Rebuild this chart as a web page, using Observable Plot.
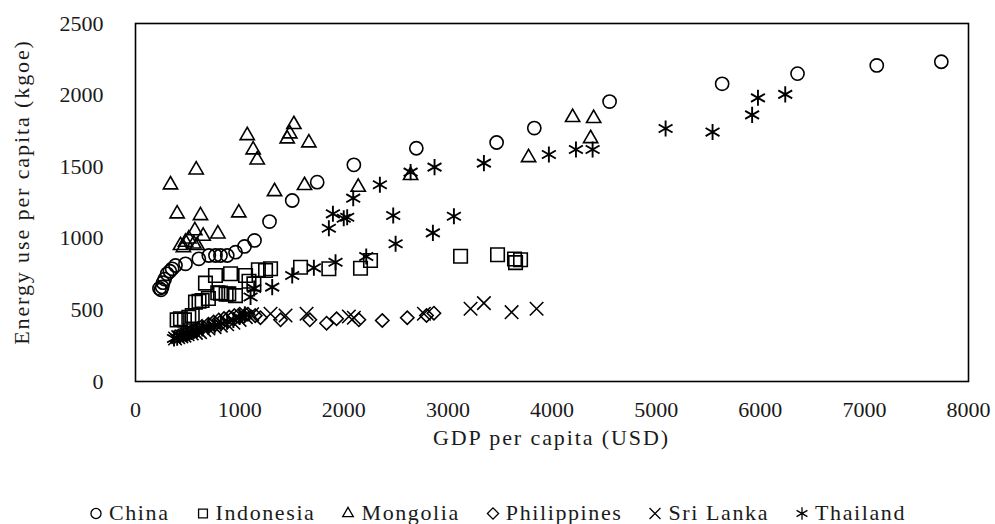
<!DOCTYPE html>
<html>
<head>
<meta charset="utf-8">
<script src="https://cdn.jsdelivr.net/npm/d3@7"></script>
<script src="https://cdn.jsdelivr.net/npm/@observablehq/plot@0.6"></script>
<style>
  body { margin: 0; background: #fff; }
  #wrap { position: relative; width: 995px; height: 524px; font-family: "Liberation Serif", "Tinos", "Times New Roman", serif; color: #1a1a1a; overflow: hidden; }
  #chart { position: absolute; left: 0; top: 0; }
  #chart svg text { font-family: "Liberation Serif", "Tinos", "Times New Roman", serif; }
  .lab { position: absolute; font-size: 22px; letter-spacing: 1.9px; white-space: nowrap; line-height: 22px; }
  #xlab { left: 135px; width: 833px; text-align: center; top: 427px; }
  #ylab { left: 22px; top: 192px; transform: translate(-50%, -50%) rotate(-90deg); }
  #legend { position: absolute; left: 0; width: 995px; top: 501px; display: flex; justify-content: center; align-items: center; font-size: 22px; letter-spacing: 1.6px; line-height: 24px; }
  .item { display: flex; align-items: center; margin: 0 13px; }
  .item svg { margin-right: 6px; }
</style>
</head>
<body>
<div id="wrap">
  <div id="chart"></div>
  <div class="lab" id="xlab"></div>
  <div class="lab" id="ylab"></div>
  <div id="legend"></div>
</div>
<script>
// ---- Data ----
const xTitle = "GDP per capita (USD)";
const yTitle = "Energy use per capita (kgoe)";
const xTicks = [0, 1000, 2000, 3000, 4000, 5000, 6000, 7000, 8000];
const yTicks = [0, 500, 1000, 1500, 2000, 2500];
const countries = ["China", "Indonesia", "Mongolia", "Philippines", "Sri Lanka", "Thailand"];

const chinaGdp    = [230, 245, 256, 265, 280, 304, 330, 352, 384, 480, 608, 704, 768, 816, 881, 961, 1047, 1143, 1287, 1505, 1745, 2097, 2697, 3468, 3830, 4553, 5634, 6358, 7119, 7739];
const chinaEnergy = [650, 640, 660, 690, 715, 752, 770, 787, 810, 822, 857, 880, 880, 880, 880, 903, 943, 985, 1117, 1264, 1392, 1513, 1629, 1669, 1770, 1955, 2079, 2150, 2207, 2233];

const indonesiaGdp    = [400, 432, 470, 512, 545, 576, 610, 640, 672, 700, 768, 790, 816, 870, 896, 913, 960, 1057, 1090, 1137, 1180, 1249, 1297, 1585, 1857, 2161, 2257, 3122, 3477, 3640, 3650, 3698];
const indonesiaEnergy = [430, 438, 430, 449, 460, 554, 560, 566, 687, 580, 740, 620, 617, 610, 612, 752, 600, 740, 700, 682, 780, 775, 787, 798, 787, 791, 845, 875, 885, 855, 830, 850];

const mongoliaGdp    = [336, 400, 432, 460, 480, 512, 560, 570, 583, 592, 624, 650, 791, 992, 1073, 1130, 1169, 1335, 1457, 1482, 1521, 1623, 1665, 2139, 2642, 3775, 4198, 4371, 4400];
const mongoliaEnergy = [1374, 1171, 950, 935, 973, 996, 961, 1054, 1478, 950, 1159, 1015, 1031, 1178, 1718, 1618, 1548, 1327, 1695, 1730, 1795, 1369, 1667, 1357, 1439, 1564, 1844, 1697, 1837];

const philippinesGdp    = [480, 520, 560, 600, 640, 700, 750, 800, 850, 900, 950, 1000, 1040, 1080, 1150, 1200, 1393, 1674, 1835, 1931, 2145, 2370, 2610, 2795, 2866];
const philippinesEnergy = [330, 340, 355, 370, 385, 400, 415, 430, 440, 450, 460, 470, 455, 470, 460, 445, 431, 431, 407, 438, 431, 426, 445, 461, 477];

const sriLankaGdp    = [380, 410, 440, 470, 500, 540, 580, 620, 660, 700, 760, 820, 880, 940, 1000, 1060, 1120, 1297, 1441, 1643, 2049, 2097, 2770, 3218, 3346, 3612, 3852];
const sriLankaEnergy = [300, 310, 315, 320, 330, 335, 340, 345, 360, 370, 380, 390, 400, 410, 430, 450, 470, 473, 461, 473, 454, 445, 473, 508, 547, 484, 508];

const thailandGdp    = [370, 400, 430, 460, 500, 540, 590, 640, 700, 760, 820, 880, 940, 1000, 1050, 1105, 1140, 1313, 1505, 1713, 1921, 2216, 2498, 1857, 1896, 2000, 2033, 2091, 2347, 2475, 2642, 2856, 2872, 3058, 3346, 3970, 4230, 4390, 5091, 5542, 5922, 5978, 6240];
const thailandEnergy = [300, 305, 320, 330, 335, 345, 360, 370, 380, 390, 405, 420, 430, 450, 470, 590, 650, 659, 740, 794, 833, 873, 962, 1070, 1171, 1140, 1147, 1280, 1374, 1159, 1462, 1038, 1497, 1154, 1525, 1585, 1620, 1620, 1767, 1742, 1862, 1981, 2005];

// ---- Build tables ----
const toRows = (gdp, energy) => gdp.map((g, i) => ({gdp: g, energy: energy[i]}));
const series = [
  {name: countries[0], rows: toRows(chinaGdp, chinaEnergy), symbol: "circle", r: 6.6},
  {name: countries[1], rows: toRows(indonesiaGdp, indonesiaEnergy), symbol: "square2", r: 8.6},
  {name: countries[2], rows: toRows(mongoliaGdp, mongoliaEnergy), symbol: "triangle2", r: 6.8},
  {name: countries[3], rows: toRows(philippinesGdp, philippinesEnergy), symbol: "diamond2", r: 6.0},
  {name: countries[4], rows: toRows(sriLankaGdp, sriLankaEnergy), symbol: "times", r: 6.2},
  {name: countries[5], rows: toRows(thailandGdp, thailandEnergy), symbol: "asterisk", r: 7.6}
];

const font = '"Liberation Serif", "Tinos", "Times New Roman", serif';
const chart = Plot.plot({
  width: 995,
  height: 430,
  marginLeft: 135,
  marginRight: 27,
  marginTop: 23,
  marginBottom: 49,
  style: {fontFamily: font, fontSize: "22px", color: "#1a1a1a", background: "white"},
  x: {domain: [0, 8000], ticks: xTicks, tickFormat: d3.format("d"), tickSize: 0, tickPadding: 20, label: null},
  y: {domain: [0, 2500], ticks: yTicks, tickFormat: d3.format("d"), tickSize: 0, tickPadding: 32, label: null},
  marks: [
    ...series.map(s => Plot.dot(s.rows, {
      x: "gdp", y: "energy", symbol: s.symbol, r: s.r,
      stroke: "#000", strokeWidth: s.symbol === "asterisk" ? 1.9 : 1.6, fill: "none"
    })),
    Plot.frame({stroke: "#000", strokeWidth: 1.6})
  ]
});
document.getElementById("chart").appendChild(chart);
document.getElementById("xlab").textContent = xTitle;
document.getElementById("ylab").textContent = yTitle;

// ---- Legend ----
const symMap = {circle: d3.symbolCircle, square2: d3.symbolSquare2, triangle2: d3.symbolTriangle2, diamond2: d3.symbolDiamond2, times: d3.symbolTimes, asterisk: d3.symbolAsterisk};
const legend = document.getElementById("legend");
series.forEach(s => {
  const item = document.createElement("div");
  item.className = "item";
  const svg = d3.create("svg").attr("width", 14).attr("height", 14);
  svg.append("path")
    .attr("transform", "translate(7,7.5)")
    .attr("d", d3.symbol(symMap[s.symbol], s.symbol === "square2" ? 100 : (s.symbol === "asterisk" ? 110 : 80))())
    .attr("fill", "none").attr("stroke", "#000").attr("stroke-width", 1.3);
  item.appendChild(svg.node());
  const span = document.createElement("span");
  span.textContent = s.name;
  item.appendChild(span);
  legend.appendChild(item);
});
</script>
</body>
</html>
